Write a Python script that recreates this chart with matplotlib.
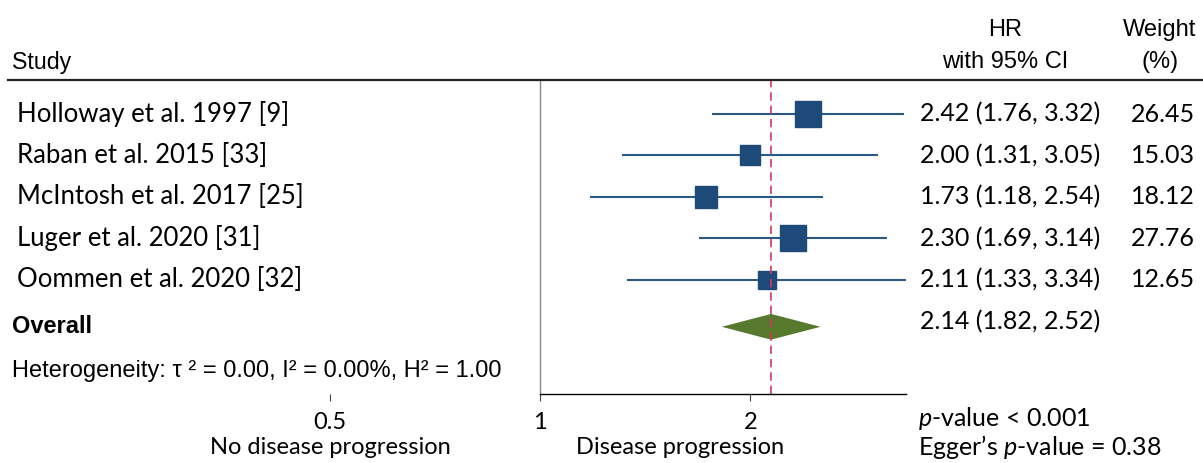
import numpy as np
import matplotlib.pyplot as plt
import matplotlib.transforms as mtransforms
from matplotlib.lines import Line2D
from matplotlib.ticker import NullLocator

studies = ["Holloway et al. 1997 [9]", "Raban et al. 2015 [33]", "McIntosh et al. 2017 [25]",
           "Luger et al. 2020 [31]", "Oommen et al. 2020 [32]"]
hr = [2.42, 2.00, 1.73, 2.30, 2.11]
ci_low = [1.76, 1.31, 1.18, 1.69, 1.33]
ci_high = [3.32, 3.05, 2.54, 3.14, 3.34]
weights = [26.45, 15.03, 18.12, 27.76, 12.65]
overall = [2.14, 1.82, 2.52]  # HR, low, high
heterogeneity = "Heterogeneity: \u03c4 \u00b2 = 0.00, I\u00b2 = 0.00%, H\u00b2 = 1.00"
ticks = [0.5, 1, 2]
tick_labels = ["0.5", "1", "2"]

CAL = "Lato"
ARI = "Liberation Sans"
plt.rcParams['mathtext.fontset'] = 'custom'
plt.rcParams['mathtext.rm'] = CAL
plt.rcParams['mathtext.it'] = CAL + ':italic'

W, H = 1203, 463
fig = plt.figure(figsize=(W / 100, H / 100), dpi=100)

def fx(p):
    return p / W

def fy(p):
    return 1 - p / H

ax = fig.add_axes([fx(330), fy(394), fx(906) - fx(330), fy(80) - fy(394)])
ax.set_xscale('log')
ax.set_xlim(0.5, max(ci_high))
ax.set_ylim(6.75, -0.82)

blue = '#1d4a78'
for i in range(len(studies)):
    ax.plot([ci_low[i], ci_high[i]], [i, i], color='#2b5987', lw=1.5, solid_capstyle='butt')
    ax.plot(hr[i], i, marker='s', ms=3.6 * np.sqrt(weights[i]), color=blue, mec=blue)

# overall diamond
ov_row = 5.13
ax.fill([overall[1], overall[0], overall[2], overall[0]],
        [ov_row, ov_row - 0.31, ov_row, ov_row + 0.31], color='#56792d', lw=0)
ax.axvline(overall[0], color='#d8365f', lw=1.2, ls=(0, (5, 3)))
ax.axvline(1, color='#888888', lw=1)

for s in ['top', 'left', 'right']:
    ax.spines[s].set_visible(False)
ax.spines['bottom'].set_bounds(1, max(ci_high))
ax.spines['bottom'].set_linewidth(1)
ax.set_yticks([])
ax.set_xticks(ticks)
ax.set_xticklabels(tick_labels, fontsize=17, family=CAL)
ax.xaxis.set_minor_locator(NullLocator())
ax.tick_params(axis='x', length=5, width=0.8, pad=8, color='#444444')
ax.patch.set_visible(False)

# header
fig.text(fx(12), fy(62), "Study", family=ARI, fontsize=16.7, va='center')
fig.text(fx(1005), fy(30), "HR", family=ARI, fontsize=17, va='center', ha='center')
fig.text(fx(1005), fy(62), "with 95% CI", family=ARI, fontsize=17, va='center', ha='center')
fig.text(fx(1160), fy(30), "Weight", family=ARI, fontsize=17, va='center', ha='center')
fig.text(fx(1160), fy(62), "(%)", family=ARI, fontsize=17, va='center', ha='center')
fig.add_artist(Line2D([fx(8), 1], [fy(80), fy(80)], color='#222222', lw=1.6))

trans = mtransforms.blended_transform_factory(fig.transFigure, ax.transData)
for i in range(len(studies)):
    fig.text(fx(17), i, studies[i], transform=trans, family=CAL, fontsize=18.5, va='center')
    fig.text(fx(920), i, "%.2f (%.2f, %.2f)" % (hr[i], ci_low[i], ci_high[i]),
             transform=trans, family=CAL, fontsize=18, va='center')
    fig.text(fx(1195), i, "%.2f" % weights[i], transform=trans, family=CAL,
             fontsize=18, va='center', ha='right')

fig.text(fx(12), ov_row, "Overall", transform=trans, family=ARI, fontsize=17,
         fontweight='bold', va='center')
fig.text(fx(920), 5.0, "%.2f (%.2f, %.2f)" % tuple(overall), transform=trans,
         family=CAL, fontsize=18, va='center')
fig.text(fx(12), fy(371), heterogeneity, family=ARI, fontsize=17, va='center')

# bottom
fig.text(fx(330), fy(448), "No disease progression", family=CAL, fontsize=17,
         va='center', ha='center')
fig.text(fx(680), fy(448), "Disease progression", family=CAL, fontsize=17,
         va='center', ha='center')
fig.text(fx(918), fy(419), r"$\it{p}$-value < 0.001", family=CAL, fontsize=18, va='center')
fig.text(fx(918), fy(447), r"Egger’s $\it{p}$-value = 0.38", family=CAL, fontsize=18,
         va='center')

fig.savefig('out.png', dpi=100)
